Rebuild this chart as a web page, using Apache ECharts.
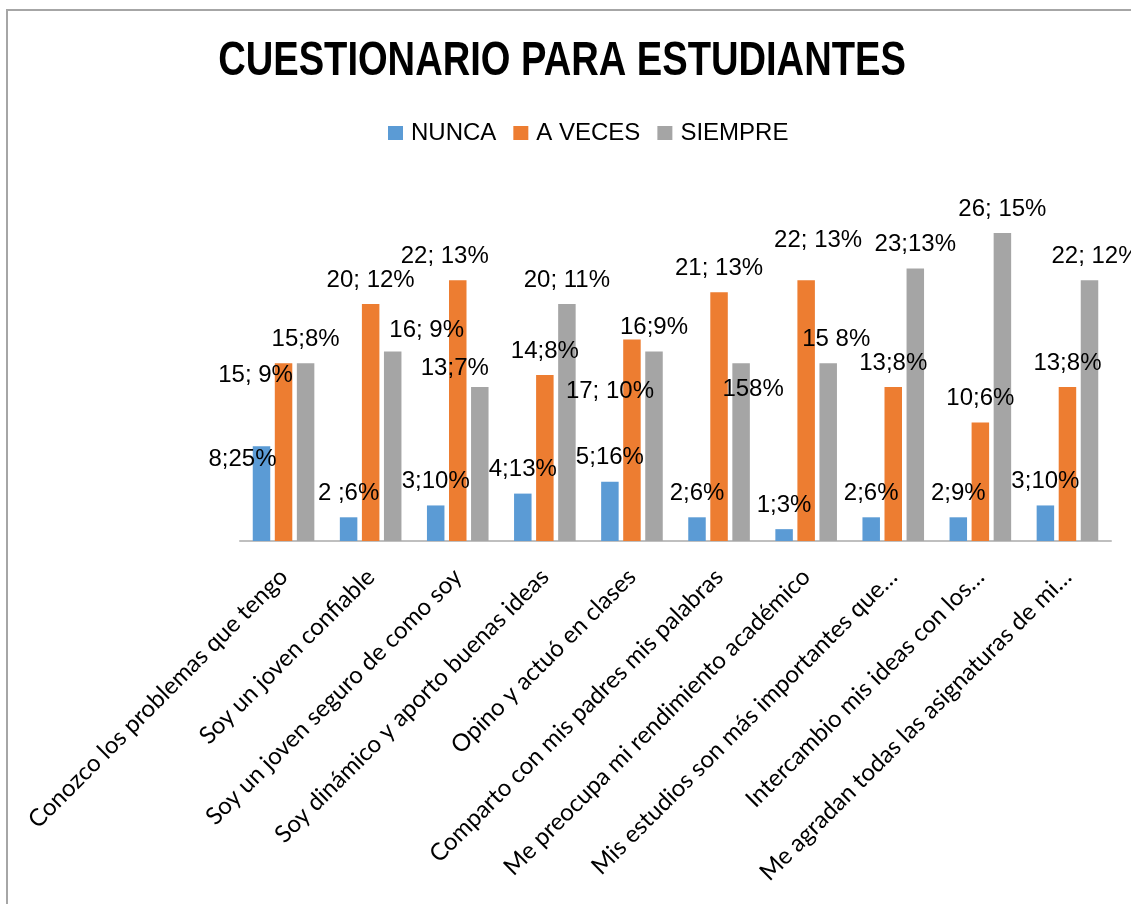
<!DOCTYPE html>
<html>
<head>
<meta charset="utf-8">
<script src="https://cdn.jsdelivr.net/npm/echarts@6/dist/echarts.min.js"></script>
<style>
html,body{margin:0;padding:0;background:#fff;}
#frame{position:absolute;left:6px;top:9px;width:1200px;height:1000px;border-left:2px solid #a6a6a6;border-top:2px solid #a6a6a6;}
#chart{position:absolute;left:0;top:0;width:1131px;height:904px;}
</style>
</head>
<body>
<div id="frame"></div>
<div id="chart"></div>
<script>
const titleText = 'CUESTIONARIO PARA ESTUDIANTES';
const categories = [
  'Conozco los problemas que tengo',
  'Soy un joven confiable',
  'Soy un joven seguro de como soy',
  'Soy dinámico y aporto buenas ideas',
  'Opino y actuó en clases',
  'Comparto con mis padres mis palabras',
  'Me preocupa mi rendimiento académico',
  'Mis estudios son más importantes que…',
  'Intercambio mis ideas con los…',
  'Me agradan todas las asignaturas de mi…'
];
const seriesNames = ['NUNCA', 'A VECES', 'SIEMPRE'];
const nunca   = [8, 2, 3, 4, 5, 2, 1, 2, 2, 3];
const aveces  = [15, 20, 22, 14, 17, 21, 22, 13, 10, 13];
const siempre = [15, 16, 13, 20, 16, 15, 15, 23, 26, 22];
const pctNunca   = [25, 6, 10, 13, 16, 6, 3, 6, 9, 10];
const pctAveces  = [9, 12, 13, 8, 10, 13, 13, 8, 6, 8];
const pctSiempre = [8, 9, 7, 11, 9, 8, 8, 13, 15, 12];
// separators as printed in the original labels
const sepNunca   = [';', ' ;', ';', ';', ';', ';', ';', ';', ';', ';'];
const sepAveces  = ['; ', '; ', '; ', ';', '; ', '; ', '; ', ';', ';', ';'];
const sepSiempre = [';', '; ', ';', '; ', ';', '', ' ', ';', '; ', '; '];

const colors = ['#5b9bd5', '#ed7d31', '#a5a5a5'];

// label nudges for labels that sit away from the bar top in the original
const labelNudge = {
  0: {0: [-19, 37]},
  1: {0: [-28, 36], 2: [-13, 0], 4: [-22, 76], 6: [12, -16]},
  2: {1: [34, 3], 2: [-25, 5], 5: [12, 50], 6: [8, 0], 9: [6, 0]}
};

const values = [nunca, aveces, siempre];
const pcts = [pctNunca, pctAveces, pctSiempre];
const seps = [sepNunca, sepAveces, sepSiempre];

const series = values.map((vals, s) => ({
  name: seriesNames[s],
  type: 'bar',
  barWidth: 17.5,
  barGap: '26%',
  itemStyle: {color: colors[s]},
  data: vals.map((v, i) => {
    const item = {value: v};
    const n = labelNudge[s][i];
    if (n) item.label = {offset: n};
    return item;
  }),
  label: {
    show: true,
    position: 'top',
    distance: 12,
    fontFamily: 'Liberation Sans, Arial, sans-serif',
    fontSize: 24,
    color: '#000',
    formatter: p => vals[p.dataIndex] + seps[s][p.dataIndex] + pcts[s][p.dataIndex] + '%'
  }
}));

const chart = echarts.init(document.getElementById('chart'));
chart.setOption({
  backgroundColor: 'transparent',
  animation: false,
  graphic: [{
    type: 'text',
    x: 562,
    y: 61,
    scaleX: 0.778,
    style: {
      text: titleText,
      textAlign: 'center',
      textVerticalAlign: 'middle',
      fontFamily: 'Liberation Sans, Arial, sans-serif',
      fontWeight: 'bold',
      fontSize: 49,
      fill: '#000'
    }
  }],
  legend: {
    left: 388,
    top: 121,
    padding: 0,
    itemWidth: 15,
    itemHeight: 14,
    itemGap: 17,
    icon: 'rect',
    data: seriesNames,
    textStyle: {
      fontFamily: 'Liberation Sans, Arial, sans-serif',
      fontSize: 24,
      color: '#000',
      padding: [0, 0, 0, 3]
    }
  },
  grid: {left: 240, right: 20, top: 185.5, bottom: 363, containLabel: false},
  xAxis: {
    type: 'category',
    data: categories,
    axisLine: {lineStyle: {color: '#bfbfbf', width: 2}},
    axisTick: {show: false},
    axisLabel: {
      rotate: 45,
      interval: 0,
      margin: 32,
      fontFamily: 'Lato, Open Sans, sans-serif',
      fontSize: 24,
      color: '#000'
    }
  },
  yAxis: {
    type: 'value',
    min: 0,
    max: 30,
    show: false,
    splitLine: {show: false}
  },
  series: series
});
</script>
</body>
</html>
